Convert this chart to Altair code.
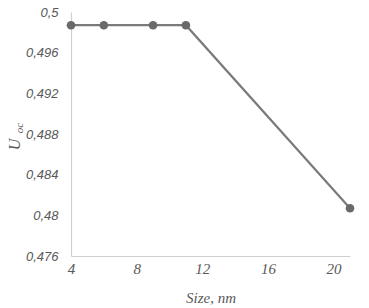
import altair as alt
import pandas as pd

size_nm = [4, 6, 9, 11, 21]
u_oc = [0.4987, 0.4987, 0.4987, 0.4987, 0.4807]
x_ticks = [4, 8, 12, 16, 20]
y_ticks = [0.476, 0.48, 0.484, 0.488, 0.492, 0.496, 0.5]

df = pd.DataFrame({"size": size_nm, "uoc": u_oc})

SERIF = "Liberation Serif"
SANS = "Liberation Sans"
GREY = "#595959"

x = alt.X("size:Q", scale=alt.Scale(domain=[4, 21], nice=False, zero=False),
          axis=alt.Axis(values=x_ticks, title="Size, nm", grid=False, ticks=False,
                        domainColor="#d0d0d0", domainWidth=1.2,
                        labelFont=SERIF, labelFontStyle="italic", labelFontSize=15,
                        labelColor=GREY, labelPadding=5, labelFlush=False,
                        titleFont=SERIF, titleFontStyle="italic", titleFontSize=15,
                        titleFontWeight="normal", titleColor=GREY, titlePadding=14))
y = alt.Y("uoc:Q", scale=alt.Scale(domain=[0.476, 0.5], nice=False, zero=False),
          axis=alt.Axis(values=y_ticks, title="U", grid=False, ticks=False,
                        domainColor="#d0d0d0", domainWidth=1.2,
                        labelExpr="replace(format(datum.value, '.3~f'), '.', ',')",
                        labelFont=SANS, labelFontStyle="italic", labelFontSize=13,
                        labelColor=GREY, labelPadding=13,
                        titleFont=SERIF, titleFontStyle="italic", titleFontSize=16,
                        titleFontWeight="normal", titleColor=GREY,
                        titleAngle=270, titleX=-52, titleY=132, titleAlign="center",
                        titleBaseline="alphabetic"))

line = alt.Chart(df).mark_line(color="#7a7a7a", strokeWidth=2.2).encode(x=x, y=y)
pts = alt.Chart(df).mark_circle(color="#6a6a6a", opacity=1, size=75).encode(x=x, y=y)
sub = alt.Chart(pd.DataFrame({"t": ["oc"]})).mark_text(
    font=SERIF, fontStyle="italic", fontSize=11, color=GREY, angle=270,
    align="center", baseline="alphabetic"
).encode(text="t:N", x=alt.value(-48), y=alt.value(116))

chart = alt.layer(line, pts, sub).properties(
    width=279, height=244,
    padding={"left": 71, "top": 12, "right": 19, "bottom": 52},
    autosize=alt.AutoSizeParams(type="none"),
    background="white",
).configure_view(stroke=None)

chart.save("out.html", embed_options={"renderer": "svg", "actions": False})
